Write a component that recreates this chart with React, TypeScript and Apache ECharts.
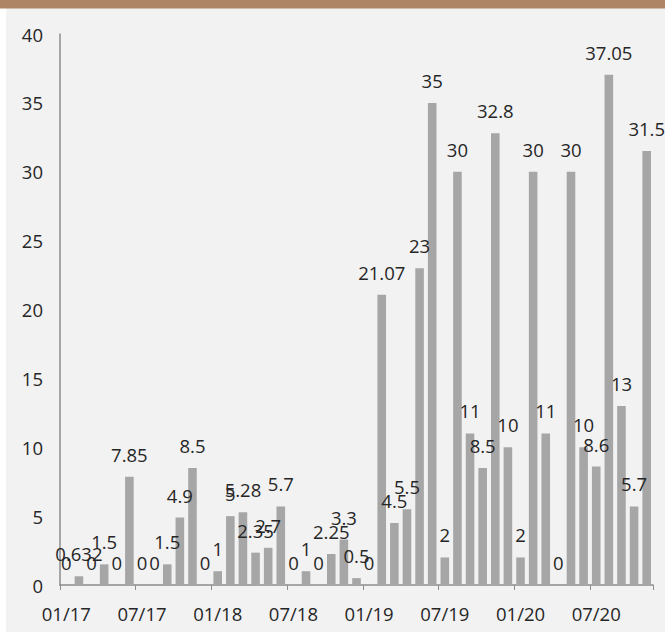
import React, { useEffect, useRef } from "react";
import * as echarts from "echarts";

const months: string[] = [
  "01/17", "02/17", "03/17", "04/17", "05/17", "06/17", "07/17", "08/17", "09/17", "10/17", "11/17", "12/17",
  "01/18", "02/18", "03/18", "04/18", "05/18", "06/18", "07/18", "08/18", "09/18", "10/18", "11/18", "12/18",
  "01/19", "02/19", "03/19", "04/19", "05/19", "06/19", "07/19", "08/19", "09/19", "10/19", "11/19", "12/19",
  "01/20", "02/20", "03/20", "04/20", "05/20", "06/20", "07/20", "08/20", "09/20", "10/20", "11/20",
];

const values: number[] = [
  0, 0.632, 0, 1.5, 0, 7.85, 0, 0, 1.5, 4.9, 8.5, 0,
  1, 5, 5.28, 2.35, 2.7, 5.7, 0, 1, 0, 2.25, 3.3, 0.5,
  0, 21.07, 4.5, 5.5, 23, 35, 2, 30, 11, 8.5, 32.8, 10,
  2, 30, 11, 0, 30, 10, 8.6, 37.05, 13, 5.7, 31.5,
];

const yMin = 0;
const yMax = 40;
const yStep = 5;

export default function App() {
  const ref = useRef<HTMLDivElement>(null);
  useEffect(() => {
    if (!ref.current) return;
    const chart = echarts.init(ref.current, null, { renderer: "svg" });
    const font = "Open Sans";
    const fs = 18.5;
    chart.setOption({
      animation: false,
      backgroundColor: "#f2f2f2",
      graphic: [
        { type: "rect", left: 0, top: 0, shape: { width: 665, height: 8.5 }, style: { fill: "#ae8565" }, z: 10 },
        { type: "rect", left: 0, top: 0, shape: { width: 6, height: 632 }, style: { fill: "#ffffff" }, z: 9 },
      ],
      grid: { left: 60, right: 12, top: 34, bottom: 47, containLabel: false },
      xAxis: {
        type: "category",
        data: months,
        boundaryGap: true,
        axisLine: { show: true, lineStyle: { color: "#8c8c8c", width: 1.5 } },
        axisTick: { show: true, interval: 5, length: 5, alignWithLabel: false, lineStyle: { color: "#8c8c8c" } },
        axisLabel: { interval: 5, margin: 19, fontFamily: font, fontSize: fs, color: "#262626" },
        splitLine: { show: false },
      },
      yAxis: {
        type: "value",
        min: yMin,
        max: yMax,
        interval: yStep,
        axisLine: { show: true, lineStyle: { color: "#8c8c8c", width: 1.5 } },
        axisTick: { show: false },
        splitLine: { show: false },
        axisLabel: { margin: 17, fontFamily: font, fontSize: fs, color: "#262626" },
      },
      series: [
        {
          type: "bar",
          data: values,
          barCategoryGap: "32%",
          itemStyle: { color: "#a6a6a6" },
          label: {
            show: true,
            position: "top",
            distance: 13,
            fontFamily: font,
            fontSize: fs,
            color: "#262626",
          },
        },
      ],
    });
    return () => chart.dispose();
  }, []);
  return (
    <div
      ref={ref}
      style={{ position: "absolute", left: 0, top: 0, width: 665, height: 632 }}
    />
  );
}
